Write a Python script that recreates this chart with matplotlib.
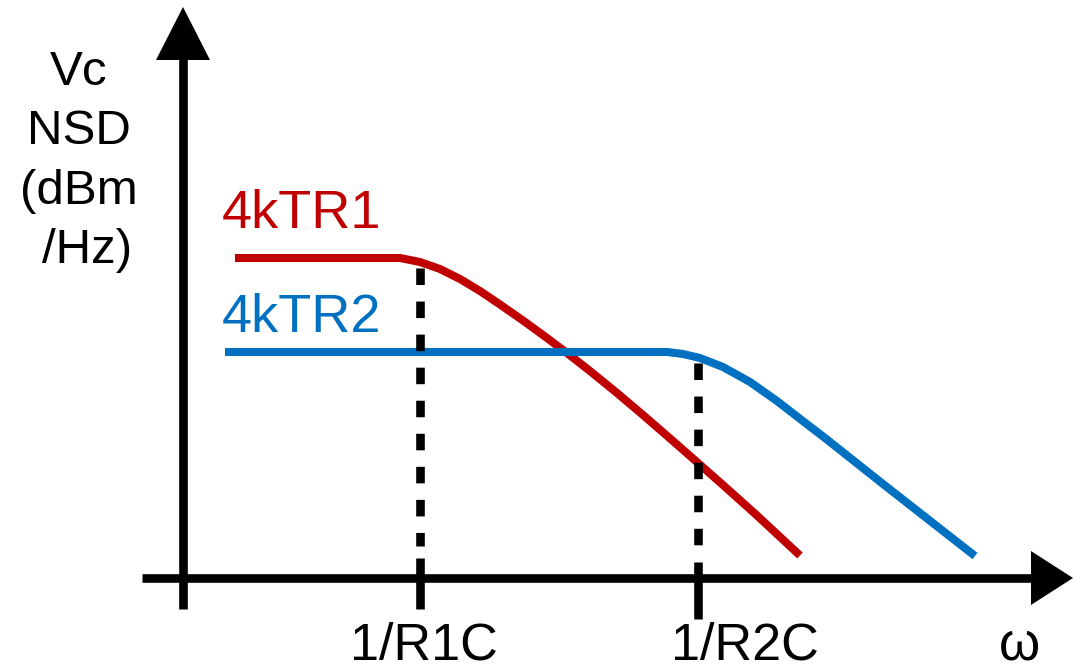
import matplotlib
matplotlib.use("Agg")
import matplotlib.pyplot as plt
from matplotlib.patches import Polygon

plt.rcParams['font.family'] = ['Liberation Sans', 'DejaVu Sans']
plt.rcParams['lines.scale_dashes'] = False

# drawing units: 1 unit = 1 px, y grows downward
# noise spectral density curves (omega position, level)
red_x = [235, 400, 420, 440, 460, 480, 500, 523, 547, 567, 590, 617, 643, 673, 698, 723, 757, 800]
red_y = [258, 258, 262, 269, 279, 291, 304.5, 320.5, 338, 353, 371, 393, 415, 441, 463, 485, 515.5, 555.5]

blue_x = [225, 667, 683, 700, 723, 750, 777, 808, 825, 883, 975]
blue_y = [352, 352, 354, 358, 367, 382, 401, 425, 438, 484, 556]

# corner frequencies 1/RC and where the dashed guides start / ticks end
corner_x = [420, 698]
corner_top = [268, 363]
tick_top = [558, 562]
tick_bottom = [609, 619]
corner_labels = ['1/R1C', '1/R2C']
corner_label_x = [424, 745]

curve_labels = ['4kTR1', '4kTR2']
curve_label_y = [228, 332]

ylabel_lines = ['Vc', 'NSD', '(dBm', '/Hz)']
ylabel_x = [79, 79, 79, 87]
ylabel_base = [85, 144, 204, 263]

RED = '#C00000'
BLUE = '#0070C0'

# axes geometry
x0_axis, y0_axis = 183, 578
x_axis_start, x_axis_end = 142, 1073
y_axis_bottom, y_axis_top = 609, 7
head_len, head_half = 52, 27
axis_lw = 6.2
curve_lw = 5.8
bottom_base = 659

fig = plt.figure(figsize=(10.74, 6.64), dpi=100)
ax = fig.add_axes([0, 0, 1, 1])
ax.set_xlim(0, 1074)
ax.set_ylim(664, 0)
ax.axis('off')

# axes with arrow heads
ax.plot([x0_axis, x0_axis], [y_axis_bottom, y_axis_top + head_len], color='black',
        lw=axis_lw, solid_capstyle='butt', zorder=3)
ax.add_patch(Polygon([[x0_axis, y_axis_top],
                      [x0_axis - head_half, y_axis_top + head_len + 1],
                      [x0_axis + head_half, y_axis_top + head_len + 1]],
                     closed=True, color='black', lw=0, zorder=3))
ax.plot([x_axis_start, x_axis_end - head_len + 10], [y0_axis, y0_axis], color='black',
        lw=axis_lw, solid_capstyle='butt', zorder=3)
ax.add_patch(Polygon([[x_axis_end, y0_axis],
                      [x_axis_end - head_len + 10, y0_axis - head_half],
                      [x_axis_end - head_len + 10, y0_axis + head_half]],
                     closed=True, color='black', lw=0, zorder=3))

# the two spectra
ax.plot(red_x, red_y, color=RED, lw=curve_lw, solid_capstyle='butt',
        solid_joinstyle='round', zorder=4)
ax.plot(blue_x, blue_y, color=BLUE, lw=curve_lw, solid_capstyle='butt',
        solid_joinstyle='round', zorder=5)

# dashed guides at the corner frequencies + ticks below the axis
for cx, top, t0, t1, lab, lx in zip(corner_x, corner_top, tick_top, tick_bottom,
                                    corner_labels, corner_label_x):
    ax.plot([cx, cx], [top, 546], color='black', lw=axis_lw,
            dashes=(11.9, 11.9), dash_capstyle='butt', zorder=6)
    ax.plot([cx, cx], [t0, t1], color='black',
            lw=axis_lw, solid_capstyle='butt', zorder=6)
    ax.text(lx, bottom_base, lab, fontsize=37.5, ha='center', va='baseline', color='black')

ax.text(1019, bottom_base, 'ω', fontsize=38, ha='center', va='baseline', color='black')

for lab, ly, col in zip(curve_labels, curve_label_y, [RED, BLUE]):
    ax.text(222, ly, lab, fontsize=39, ha='left', va='baseline', color=col)

for lab, lx, ly in zip(ylabel_lines, ylabel_x, ylabel_base):
    ax.text(lx, ly, lab, fontsize=35.5, ha='center', va='baseline', color='black')

fig.savefig('out.png', dpi=100)
